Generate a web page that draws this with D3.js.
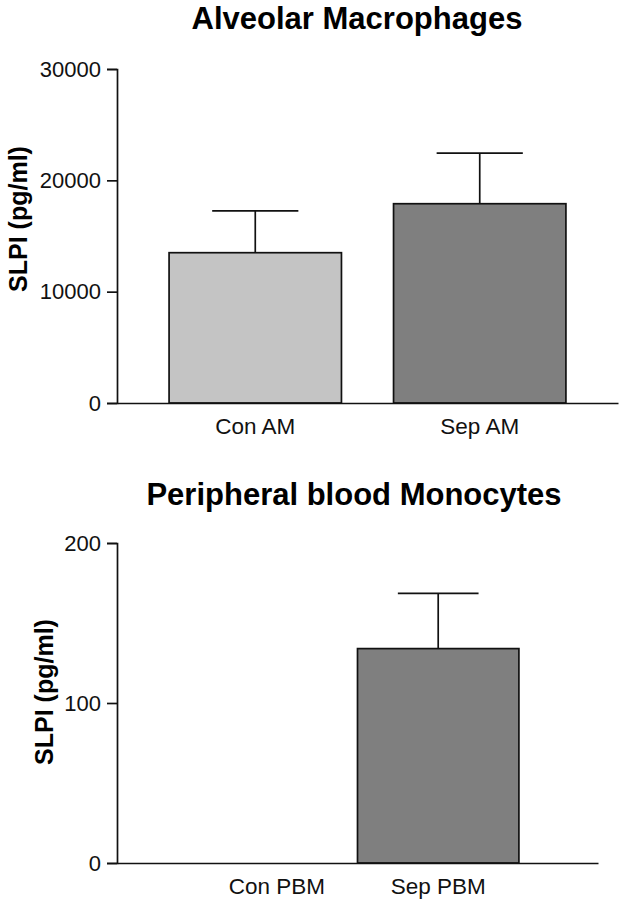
<!DOCTYPE html>
<html>
<head>
<meta charset="utf-8">
<script src="https://cdn.jsdelivr.net/npm/d3@7"></script>
<style>
  html, body { margin: 0; padding: 0; background: #fff; }
  svg { display: block; font-family: "Liberation Sans", Arial, Helvetica, sans-serif; }
</style>
</head>
<body>
<svg id="chart" width="620" height="899"></svg>
<script>
// ---- Data ----
const amCategories = ["Con AM", "Sep AM"];
const amValues = [13500, 17900];
const amErrors = [3750, 4550];   // SEM above mean
const amTicks = [0, 10000, 20000, 30000];

const pbmCategories = ["Con PBM", "Sep PBM"];
const pbmValues = [0, 134];
const pbmErrors = [0, 34.5];
const pbmTicks = [0, 100, 200];

const barColors = ["#c4c4c4", "#7f7f7f"];
const pbmColors = ["#c4c4c4", "#7f7f7f"];

const svg = d3.select("#chart");

function panel(opts) {
  const g = svg.append("g");
  const x = d3.scaleBand().domain(opts.categories)
    .range([opts.x0, opts.x1])
    .paddingInner(opts.padIn).paddingOuter(opts.padOut);
  const y = d3.scaleLinear().domain(opts.domain).range([opts.y0, opts.y1]);

  // bars
  g.selectAll("rect.bar").data(opts.values).enter().append("rect")
    .attr("class", "bar")
    .attr("x", (d, i) => x(opts.categories[i]))
    .attr("width", x.bandwidth())
    .attr("y", d => y(d))
    .attr("height", d => y(0) - y(d))
    .attr("fill", (d, i) => opts.colors[i])
    .attr("stroke", d => d > 0 ? "#111" : "none")
    .attr("stroke-width", 1.7);

  // error bars
  opts.values.forEach((v, i) => {
    const e = opts.errors[i];
    if (!(e > 0)) return;
    const cx = x(opts.categories[i]) + x.bandwidth() / 2;
    const hw = x.bandwidth() / 4;
    g.append("line").attr("x1", cx).attr("x2", cx)
      .attr("y1", y(v)).attr("y2", y(v + e))
      .attr("stroke", "#111").attr("stroke-width", 1.7);
    g.append("line").attr("x1", cx - hw).attr("x2", cx + hw)
      .attr("y1", y(v + e)).attr("y2", y(v + e))
      .attr("stroke", "#111").attr("stroke-width", 1.7);
  });

  // y axis
  const ya = g.append("g").attr("transform", `translate(${opts.x0},0)`)
    .call(d3.axisLeft(y).tickValues(opts.ticks).tickSize(10).tickPadding(6).tickFormat(d3.format("d")));
  ya.select(".domain").attr("stroke", "#111").attr("stroke-width", 1.7);
  ya.selectAll(".tick line").attr("stroke", "#111").attr("stroke-width", 1.7);
  ya.selectAll(".tick text").attr("font-size", 22).attr("fill", "#111")
    .attr("font-family", "'Liberation Sans', Arial, sans-serif");

  // x axis
  const xa = g.append("g").attr("transform", `translate(0,${opts.y0})`)
    .call(d3.axisBottom(x).tickSize(0).tickPadding(15));
  xa.select(".domain").attr("stroke", "#111").attr("stroke-width", 1.7);
  xa.selectAll(".tick text").attr("font-size", 22.5).attr("fill", "#111")
    .attr("font-family", "'Liberation Sans', Arial, sans-serif");

  // title
  g.append("text").attr("x", opts.titleX).attr("y", opts.titleY)
    .attr("text-anchor", "middle").attr("font-weight", "bold")
    .attr("font-size", opts.titleSize).attr("fill", "#000").text(opts.title);

  // y label
  g.append("text")
    .attr("transform", `translate(${opts.ylabX},${opts.ylabY}) rotate(-90)`)
    .attr("text-anchor", "middle").attr("font-weight", "bold")
    .attr("font-size", 25).attr("fill", "#000").text("SLPI (pg/ml)");
}

panel({
  categories: amCategories, values: amValues, errors: amErrors, colors: barColors,
  ticks: amTicks, domain: [0, 30000],
  x0: 117, x1: 618, y0: 403, y1: 69, padIn: 0.232, padOut: 0.232,
  title: "Alveolar Macrophages", titleX: 357, titleY: 28.5, titleSize: 31,
  ylabX: 27, ylabY: 219
});

panel({
  categories: pbmCategories, values: pbmValues, errors: pbmErrors, colors: pbmColors,
  ticks: pbmTicks, domain: [0, 200],
  x0: 117, x1: 598, y0: 863, y1: 543, padIn: 0, padOut: 0.49,
  title: "Peripheral blood Monocytes", titleX: 354, titleY: 505, titleSize: 31,
  ylabX: 53, ylabY: 692
});
</script>
</body>
</html>
